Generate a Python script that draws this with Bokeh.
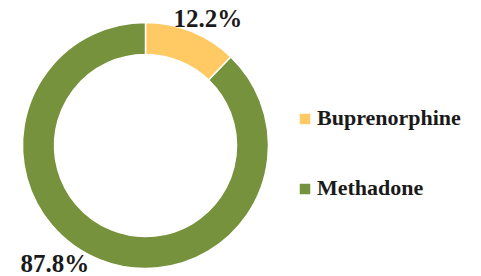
import math
from bokeh.plotting import figure
from bokeh.models import Range1d, Legend, LegendItem
from bokeh.embed import file_html
from bokeh.resources import INLINE
from bokeh.core.properties import value

# data
labels = ["Buprenorphine", "Methadone"]
shares = [12.2, 87.8]
colors = ["#FFC964", "#76923C"]
pct_text = ["12.2%", "87.8%"]

W, H = 481, 276
p = figure(width=W, height=H, output_backend="svg", toolbar_location=None,
           x_range=Range1d(0, W), y_range=Range1d(276 - H, 276),
           min_border=0)
p.axis.visible = False
p.grid.visible = False
p.outline_line_color = None

cx, cy = 145, 276 - 145
r_in, r_out = 91, 123

total = sum(shares)
starts, ends = [], []
a = math.pi / 2
for s in shares:
    starts.append(a)
    a = a - 2 * math.pi * s / total
    ends.append(a)

renderers = []
for i in range(len(labels)):
    r = p.annular_wedge(x=cx, y=cy, inner_radius=r_in, outer_radius=r_out,
                        start_angle=starts[i], end_angle=ends[i], direction="clock",
                        fill_color=colors[i], line_color="white", line_width=1.5)
    renderers.append(r)

# percentage labels
font_kw = dict(text_font=value("Liberation Serif"), text_font_style="bold",
               text_font_size="25px", text_color="#1a1a1a", text_align="left")
p.text(x=[173], y=[276 - 4], text=[pct_text[0]], text_baseline="top", **font_kw)
p.text(x=[20], y=[0], text=[pct_text[1]], text_baseline="bottom", **font_kw)

legend = Legend(items=[LegendItem(label=labels[i], renderers=[renderers[i]]) for i in range(len(labels))],
                location=(297, 75), orientation="vertical",
                glyph_width=15, glyph_height=15, label_standoff=5,
                label_text_font="Liberation Serif", label_text_font_style="bold",
                label_text_font_size="22px", label_text_color="#1a1a1a",
                spacing=44, padding=0, margin=0,
                border_line_color=None, background_fill_alpha=0)
p.add_layout(legend)

open("out.html", "w").write(file_html(p, INLINE))
